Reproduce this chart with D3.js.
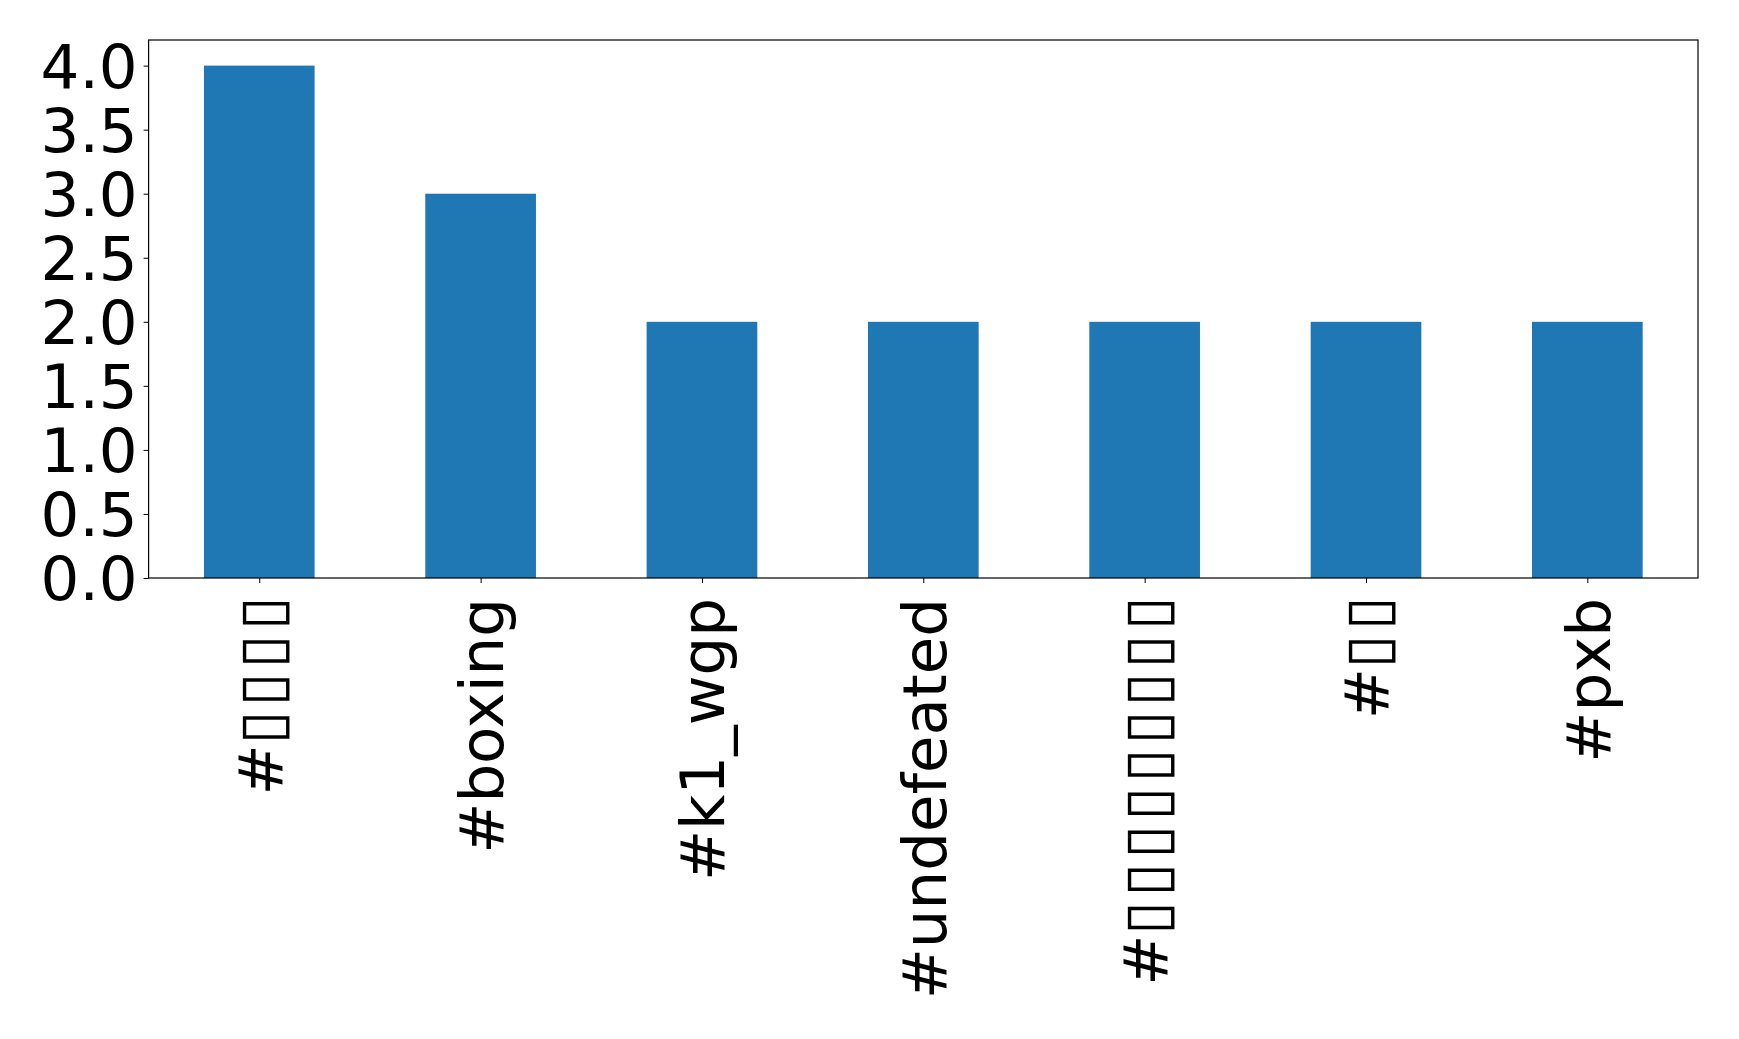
<!DOCTYPE html>
<html><head><meta charset="utf-8">
<script src="https://cdn.jsdelivr.net/npm/d3@7"></script>
<style>body{margin:0;background:#fff;} text{font-family:"DejaVu Sans",sans-serif;}</style>
</head><body>
<svg id="chart" width="1739" height="1039"></svg>
<script>
const categories = ["#\u25AF\u25AF\u25AF\u25AF","#boxing","#k1_wgp","#undefeated","#\u25AF\u25AF\u25AF\u25AF\u25AF\u25AF\u25AF\u25AF\u25AF","#\u25AF\u25AF","#pxb"];
const values = [4,3,2,2,2,2,2];
const yTicks = [0,0.5,1,1.5,2,2.5,3,3.5,4];

const svg = d3.select("#chart");
const m = {left:148.6, right:1698, top:40, bottom:578};
const x = d3.scaleLinear().domain([-0.5, categories.length-0.5]).range([m.left, m.right]);
const y = d3.scaleLinear().domain([0, 4.2]).range([m.bottom, m.top]);
const unit = x(1)-x(0);

svg.append("g").selectAll("rect").data(values).join("rect")
  .attr("x",(d,i)=>x(i-0.25)).attr("width",unit*0.5)
  .attr("y",d=>y(d)).attr("height",d=>y(0)-y(d)).attr("fill","#1f77b4");

svg.append("rect").attr("x",m.left).attr("y",m.top).attr("width",m.right-m.left).attr("height",m.bottom-m.top)
  .attr("fill","none").attr("stroke","#000").attr("stroke-width",1.2);

const ya = svg.append("g").attr("transform",`translate(${m.left},0)`)
  .call(d3.axisLeft(y).tickValues(yTicks).tickFormat(d3.format(".1f")).tickSize(5).tickPadding(6));
ya.select(".domain").remove();
ya.selectAll("text").attr("font-size",61).attr("fill","#000").attr("font-family","DejaVu Sans").attr("dy","0.36em");

const xa = svg.append("g").attr("transform",`translate(0,${m.bottom})`)
  .call(d3.axisBottom(x).tickValues(d3.range(categories.length)).tickFormat(i=>categories[i]).tickSize(5).tickPadding(0));
xa.select(".domain").remove();
xa.selectAll("text").attr("font-size",61).attr("fill","#000").attr("font-family","DejaVu Sans")
  .attr("text-anchor","end").attr("transform","rotate(-90)").attr("y",0).attr("dy","0.36em")
  .attr("x", i => /\u25AF$/.test(categories[i]) ? -14 : -20)
  .each(function(i){
    const t = d3.select(this); const s = categories[i];
    t.text(null);
    const runs = s.match(/\u25AF+|[^\u25AF]+/g);
    runs.forEach(r=>{
      const ts = t.append("tspan").text(r);
      if (r[0]==="\u25AF") ts.attr("letter-spacing","4.5px");
    });
  });
</script>
</body></html>
